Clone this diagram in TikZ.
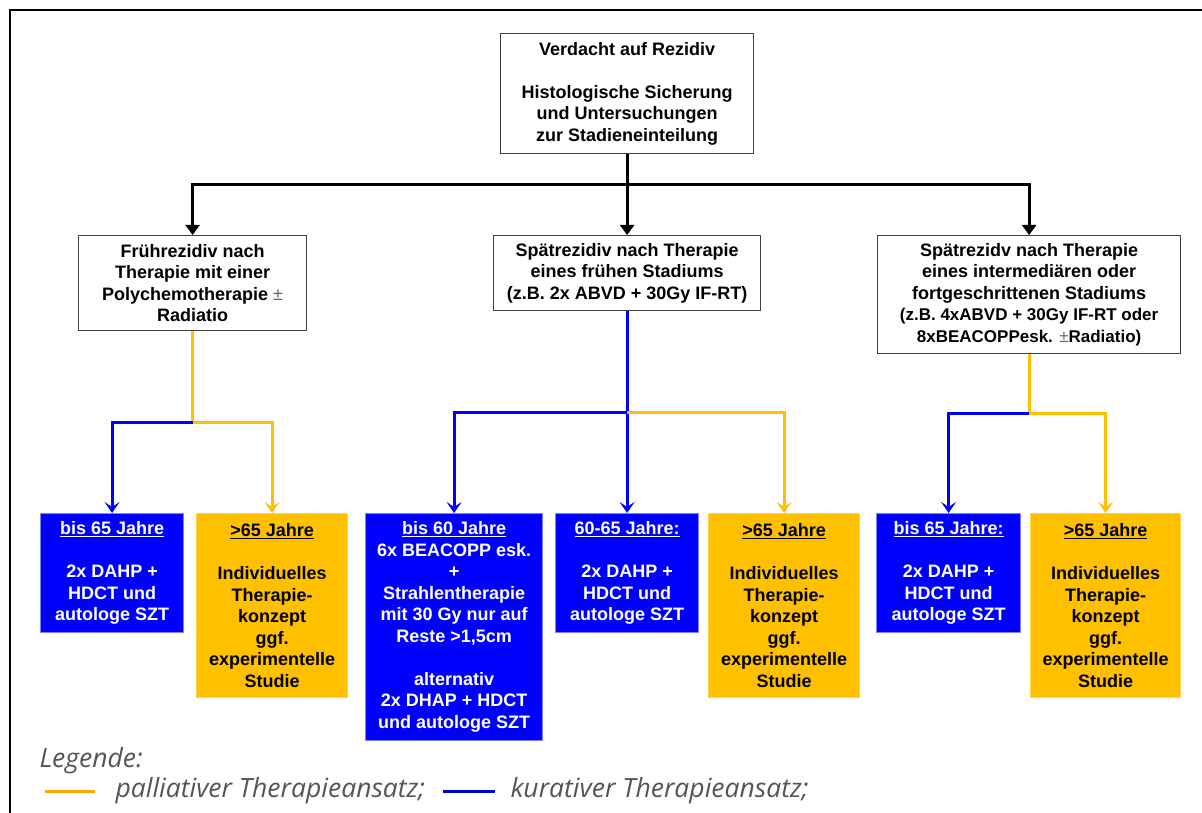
\documentclass[tikz,border=0pt]{standalone}
\usepackage{fontspec}
\setmainfont{Liberation Sans}
\newfontfamily\legfont{Open Sans}
\usetikzlibrary{arrows.meta,positioning,calc}
\definecolor{kurblau}{HTML}{0000FF}
\definecolor{palgelb}{HTML}{FFC000}
\definecolor{legorange}{HTML}{FFA500}
\definecolor{leggrau}{HTML}{555555}

\begin{document}
\begin{tikzpicture}[x=1pt,y=-1pt,
  box/.style={draw=black!75,line width=1.2pt,fill=white,align=center,inner sep=0pt,
    anchor=north west,font=\fontsize{18}{21.5}\selectfont\bfseries},
  kurbox/.style={box,draw=kurblau!50,fill=kurblau,text=white},
  palbox/.style={box,draw=palgelb!70,fill=palgelb,text=black},
  blk/.style={line width=3pt,-{Triangle[length=10pt,width=14pt]}},
  kur/.style={draw=kurblau,line width=3pt},
  pal/.style={draw=palgelb,line width=3pt},
  tip/.style={-{Stealth[length=11pt,width=15pt,inset=5pt]}},
  legtext/.style={anchor=west,text=leggrau,font=\legfont\itshape\fontsize{26.5}{29}\selectfont}]
  \useasboundingbox (0,0) rectangle (1202,813);
  \draw[line width=2.5pt] (10,813) -- (10,10) -- (1202,10);

  % Ausgangspunkt und Einteilung nach Rezidivart
  \node[box,minimum width=253pt,minimum height=120pt] (start) at (500,33)
    {Verdacht auf Rezidiv\\[21.5pt]Histologische Sicherung\\und Untersuchungen\\zur Stadieneinteilung};
  \node[box,minimum width=228pt,minimum height=95pt] (frueh) at (78,235)
    {Frührezidiv nach\\Therapie mit einer\\Polychemotherapie \textmd{\color{black!60}±}\\Radiatio};
  \node[box,minimum width=267pt,minimum height=75pt] (spaet) at (493,235)
    {Spätrezidiv nach Therapie\\eines frühen Stadiums\\(z.B. 2x ABVD + 30Gy IF-RT)};
  \node[box,minimum width=303pt,minimum height=118pt] (spaetfort) at (877,235)
    {Spätrezidv nach Therapie\\eines intermediären oder\\fortgeschrittenen Stadiums\\
     {\fontsize{17}{21.5}\selectfont(z.B. 4xABVD + 30Gy IF-RT oder}\\
     {\fontsize{17}{21.5}\selectfont 8xBEACOPPesk. \textmd{\color{black!60}±}Radiatio)}};

  % Therapieempfehlungen
  \node[kurbox,minimum width=143pt,minimum height=119pt] (fA) at (40,513)
    {\underline{bis 65 Jahre}\\[21.5pt]2x DAHP +\\HDCT und\\autologe SZT};
  \node[palbox,minimum width=151pt,minimum height=184pt] (fB) at (196,513)
    {\underline{>65 Jahre}\\[21.5pt]Individuelles\\Therapie-\\konzept\\ggf.\\experimentelle\\Studie};
  \node[kurbox,minimum width=177pt,minimum height=227pt] (sA) at (365,513)
    {\underline{bis 60 Jahre}\\6x BEACOPP esk.\\+\\Strahlentherapie\\mit 30 Gy nur auf\\Reste >1,5cm\\[21.5pt]
     alternativ\\2x DHAP + HDCT\\und autologe SZT};
  \node[kurbox,minimum width=143pt,minimum height=119pt] (sB) at (555,513)
    {\underline{60-65 Jahre:}\\[21.5pt]2x DAHP +\\HDCT und\\autologe SZT};
  \node[palbox,minimum width=151pt,minimum height=184pt] (sC) at (708,513)
    {\underline{>65 Jahre}\\[21.5pt]Individuelles\\Therapie-\\konzept\\ggf.\\experimentelle\\Studie};
  \node[kurbox,minimum width=144pt,minimum height=119pt] (gA) at (876,513)
    {\underline{bis 65 Jahre:}\\[21.5pt]2x DAHP +\\HDCT und\\autologe SZT};
  \node[palbox,minimum width=150pt,minimum height=184pt] (gB) at (1030,513)
    {\underline{>65 Jahre}\\[21.5pt]Individuelles\\Therapie-\\konzept\\ggf.\\experimentelle\\Studie};

  % schwarze Verzweigung
  \draw[line width=3pt] (start.south) -- (start.south |- 0,185) coordinate (bar);
  \draw[blk] (bar) -| (frueh.north);
  \draw[blk] (bar) -- (spaet.north);
  \draw[blk] (bar) -| (spaetfort.north);

  % Frührezidiv
  \draw[pal] (frueh.south) -- (frueh.south |- 0,422) coordinate (jf);
  \draw[kur,tip] (jf) -| (fA.north);
  \draw[pal,tip] (jf) -| (fB.north);

  % Spätrezidiv frühes Stadium
  \draw[kur] (spaet.south) -- (spaet.south |- 0,412) coordinate (js);
  \draw[kur,tip] (js) -| (sA.north);
  \draw[kur,tip] (js) -- (sB.north);
  \draw[pal,tip] (js) -| (sC.north);

  % Spätrezidiv intermediär / fortgeschritten
  \draw[pal] (spaetfort.south) -- (spaetfort.south |- 0,413) coordinate (jg);
  \draw[kur,tip] (jg) -| (gA.north);
  \draw[pal,tip] (jg) -| (gB.north);

  % Legende
  \node[legtext] (leg) at (36,761) {Legende:};
  \coordinate (po1) at (45,791);
  \coordinate (po2) at (95,791);
  \draw[legorange,line width=3pt] (po1) -- (po2);
  \node[legtext] (paltxt) at (112,791) {palliativer Therapieansatz;};
  \coordinate (ku1) at (443,791);
  \coordinate (ku2) at (495,791);
  \draw[kurblau!80!black,line width=3pt] (ku1) -- (ku2);
  \node[legtext] (kurtxt) at (507,791) {kurativer Therapieansatz;};
\end{tikzpicture}
\end{document}
